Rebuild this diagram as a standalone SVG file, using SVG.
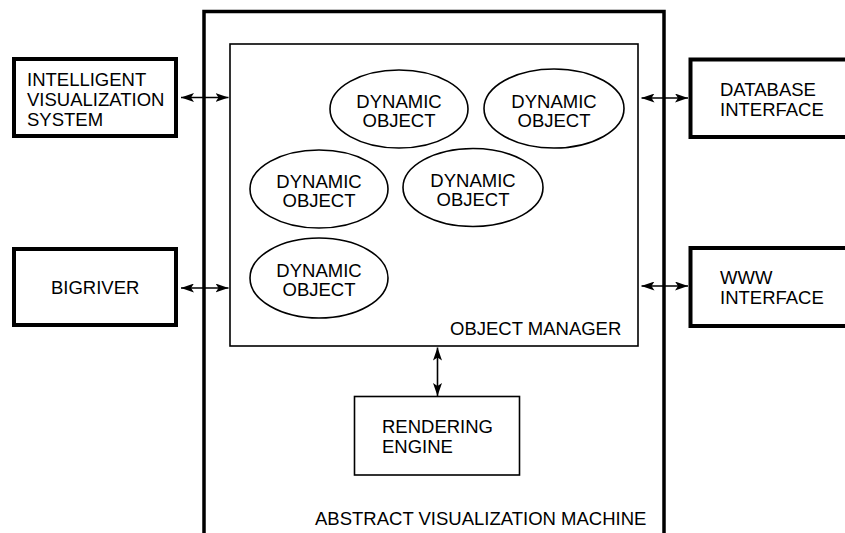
<svg xmlns="http://www.w3.org/2000/svg" width="845" height="533" viewBox="0 0 845 533">
<style>
text{font-family:"Liberation Sans",Arial,sans-serif;font-size:18.5px;fill:#000}
.thick{fill:#fff;stroke:#000;stroke-width:4}
.thin{fill:#fff;stroke:#000;stroke-width:1.6}
.ell{fill:#fff;stroke:#000;stroke-width:1.6}
.conn{stroke:#000;stroke-width:1.6;fill:none}
</style>
<defs>
<marker id="ah" viewBox="0 0 13 9" refX="13" refY="4.5" markerWidth="13" markerHeight="9" markerUnits="userSpaceOnUse" orient="auto-start-reverse">
<path d="M0,0 L13,4.5 L0,9 L3,4.5 Z" fill="#000"/>
</marker>
</defs>
<g id="avm">
<rect x="204" y="11.5" width="460" height="540" fill="#fff" stroke="#000" stroke-width="3.5"/>
<text x="315" y="525">ABSTRACT VISUALIZATION MACHINE</text>
</g>
<g id="object-manager">
<rect class="thin" x="230" y="44" width="408" height="302"/>
<text x="450" y="335">OBJECT MANAGER</text>
</g>
<g id="dyn1"><ellipse class="ell" cx="399" cy="109" rx="69" ry="39"/><text x="399" y="108" text-anchor="middle">DYNAMIC</text><text x="399" y="127" text-anchor="middle">OBJECT</text></g>
<g id="dyn2"><ellipse class="ell" cx="554" cy="108.5" rx="70" ry="39.5"/><text x="554" y="108" text-anchor="middle">DYNAMIC</text><text x="554" y="127" text-anchor="middle">OBJECT</text></g>
<g id="dyn3"><ellipse class="ell" cx="319" cy="189" rx="69" ry="39"/><text x="319" y="188" text-anchor="middle">DYNAMIC</text><text x="319" y="207" text-anchor="middle">OBJECT</text></g>
<g id="dyn4"><ellipse class="ell" cx="473" cy="187.5" rx="70" ry="39"/><text x="473" y="187" text-anchor="middle">DYNAMIC</text><text x="473" y="206" text-anchor="middle">OBJECT</text></g>
<g id="dyn5"><ellipse class="ell" cx="319" cy="278" rx="69" ry="40"/><text x="319" y="277" text-anchor="middle">DYNAMIC</text><text x="319" y="296" text-anchor="middle">OBJECT</text></g>
<g id="rendering-engine">
<rect class="thin" x="354.5" y="396.5" width="165" height="78.5"/>
<text x="382" y="433">RENDERING</text>
<text x="382" y="453">ENGINE</text>
</g>
<g id="ivs">
<rect class="thick" x="14" y="59" width="162" height="77"/>
<text x="27" y="86">INTELLIGENT</text>
<text x="27" y="106">VISUALIZATION</text>
<text x="27" y="126">SYSTEM</text>
</g>
<g id="bigriver">
<rect class="thick" x="14" y="249" width="162" height="76"/>
<text x="51" y="294">BIGRIVER</text>
</g>
<g id="database">
<rect class="thick" x="690.5" y="59.5" width="170" height="77.5"/>
<text x="720" y="96">DATABASE</text>
<text x="720" y="116">INTERFACE</text>
</g>
<g id="www">
<rect class="thick" x="690.5" y="248" width="170" height="78"/>
<text x="720" y="284">WWW</text>
<text x="720" y="304">INTERFACE</text>
</g>
<g id="connectors">
<line class="conn" x1="181" y1="97.5" x2="228.5" y2="97.5" marker-start="url(#ah)" marker-end="url(#ah)"/>
<line class="conn" x1="181" y1="288" x2="228.5" y2="288" marker-start="url(#ah)" marker-end="url(#ah)"/>
<line class="conn" x1="641.5" y1="98" x2="688" y2="98" marker-start="url(#ah)" marker-end="url(#ah)"/>
<line class="conn" x1="641.5" y1="286" x2="688" y2="286" marker-start="url(#ah)" marker-end="url(#ah)"/>
<line class="conn" x1="437.5" y1="347.5" x2="437.5" y2="396" marker-start="url(#ah)" marker-end="url(#ah)"/>
</g>
</svg>
